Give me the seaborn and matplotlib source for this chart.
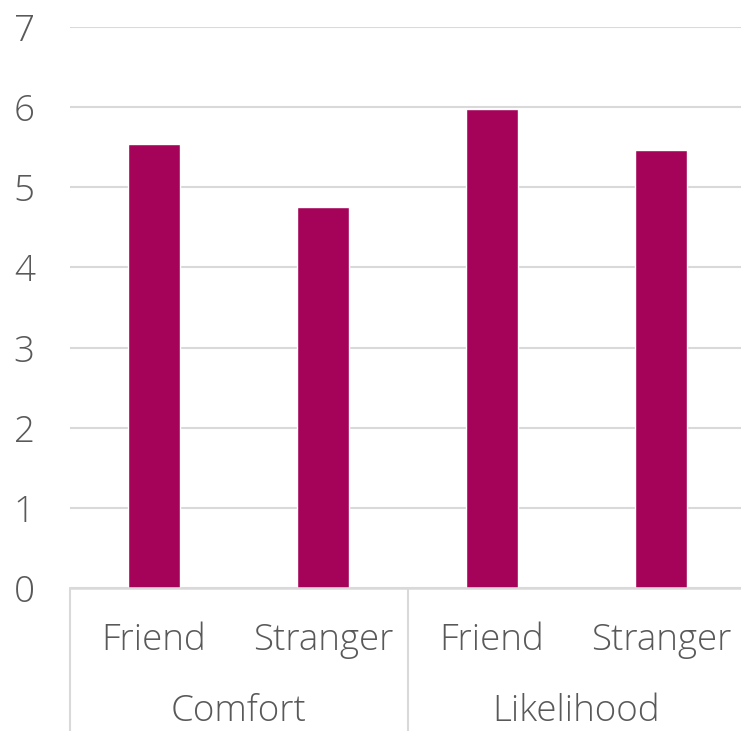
import pandas as pd
import matplotlib.pyplot as plt
import seaborn as sns

groups = ["Comfort", "Comfort", "Likelihood", "Likelihood"]
targets = ["Friend", "Stranger", "Friend", "Stranger"]
values = [5.54, 4.76, 5.98, 5.46]

data = pd.DataFrame({"group": groups, "target": targets, "value": values})
data["slot"] = [f"{g}|{t}" for g, t in zip(groups, targets)]

sns.set_style("white")
plt.rcParams["font.family"] = ["Open Sans", "Lato", "DejaVu Sans"]
plt.rcParams["font.weight"] = "light"

fig = plt.figure(figsize=(7.41, 7.31), dpi=100)
ax = fig.add_axes([69.5 / 741, 143 / 731, 676 / 741, 561 / 731])

sns.barplot(ax=ax, data=data, x="slot", y="value", color="#a50359",
            width=0.31, saturation=1, zorder=3)

txt = "#595959"
line = "#d9d9d9"

ax.set_xlim(-0.5, 3.5)
ax.set_ylim(0, 7)
ax.set_yticks(range(0, 8))
ax.yaxis.grid(True, color=line, linewidth=1.5, zorder=0)
ax.set_axisbelow(True)
for s in ax.spines.values():
    s.set_visible(False)
ax.axhline(0, color=line, linewidth=1.8, zorder=4, clip_on=False)

ax.tick_params(axis="y", length=0, pad=25, labelsize=26.5, labelcolor=txt)
ax.tick_params(axis="x", length=0, pad=24.5, labelsize=26.5, labelcolor=txt)
ax.set_xticks(range(4))
ax.set_xticklabels(targets)
ax.set_xlabel("")
ax.set_ylabel("")

# group labels and separators under the axis
trans = ax.get_xaxis_transform()
for i, g in enumerate(["Comfort", "Likelihood"]):
    ax.text(0.5 + 2 * i, -0.221, g, transform=trans, ha="center", va="center",
            fontsize=26.5, color=txt)
for xpos in [-0.5, 1.5, 3.5]:
    ax.plot([xpos, xpos], [0, -0.26], transform=trans, color=line,
            linewidth=1.5, clip_on=False)

fig.savefig("out.png", dpi=100)
